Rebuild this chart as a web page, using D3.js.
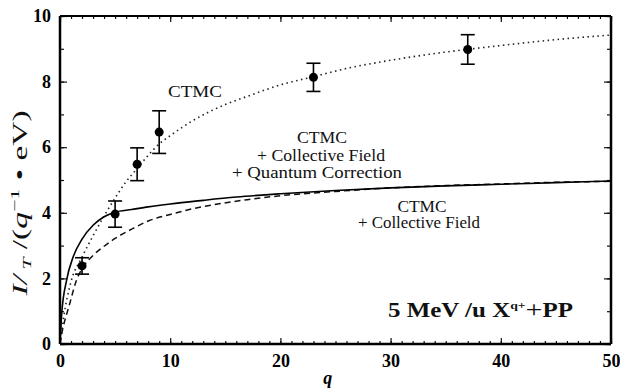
<!DOCTYPE html>
<html>
<head>
<meta charset="utf-8">
<script src="https://cdn.jsdelivr.net/npm/d3@7"></script>
<style>
  body { margin: 0; background: #fff; }
  svg { display: block; font-family: "Liberation Serif", "DejaVu Serif", serif; }
</style>
</head>
<body>
<div id="chart"></div>
<script>
// measured points with error bars: [q, value, error]
const measured = [
  [2, 2.38, 0.25],
  [5, 3.96, 0.4],
  [7, 5.48, 0.5],
  [9, 6.46, 0.65],
  [23, 8.13, 0.43],
  [37, 8.98, 0.45]
];

// CTMC (dotted)
const ctmc = [[0,0],[0.3,0.75],[1,1.9],[2,2.65],[3,3.3],[4,3.9],[5,4.45],[6,4.95],[7,5.35],[8,5.75],
  [9,6.1],[10,6.35],[12,6.8],[15,7.3],[17,7.55],[20,7.9],[23,8.15],[26,8.4],[30,8.65],[35,8.9],
  [40,9.1],[45,9.28],[50,9.42]];

// CTMC + Collective Field + Quantum Correction (solid)
const ctmcCfQc = [[0,0],[0.15,0.9],[0.6,1.95],[1.2,2.66],[2,3.2],[3,3.62],[4,3.88],[5,4.02],[6.5,4.1],
  [8,4.18],[10,4.27],[13,4.38],[16,4.48],[20,4.58],[25,4.68],[30,4.76],[35,4.82],[40,4.87],[45,4.92],[50,4.97]];

// CTMC + Collective Field (dashed)
const ctmcCf = [[0,0],[0.1,0.2],[0.9,1.25],[1.5,1.95],[2.1,2.35],[3,2.7],[4,2.98],[5,3.22],[6.5,3.5],
  [8,3.75],[10,3.95],[12,4.12],[14,4.25],[17,4.4],[20,4.52],[25,4.65],[30,4.76],[35,4.83],[40,4.88],[45,4.93],[50,4.96]];

const xTicks = [0, 10, 20, 30, 40, 50];
const yTicks = [0, 2, 4, 6, 8, 10];

const W = 620, H = 392;
const margin = { top: 16, right: 9, bottom: 48, left: 60 };
const width = W - margin.left - margin.right;
const height = H - margin.top - margin.bottom;

const svg = d3.select('#chart').append('svg')
  .attr('width', W)
  .attr('height', H);

const g = svg.append('g')
  .attr('transform', `translate(${margin.left},${margin.top})`);

const x = d3.scaleLinear().domain([0, 50]).range([0, width]);
const y = d3.scaleLinear().domain([0, 10]).range([height, 0]);

// minor ticks every 1 unit, on all four sides, pointing inward
const minorX = d3.range(0, 51, 1);
const minorY = d3.range(0, 11, 1);

g.append('g')
  .attr('transform', `translate(0,${height})`)
  .call(d3.axisBottom(x).tickValues(minorX).tickSize(-3).tickFormat(''))
  .call(a => a.select('.domain').remove());
g.append('g')
  .attr('transform', `translate(0,${height})`)
  .call(d3.axisBottom(x).tickValues(xTicks).tickSize(-6).tickPadding(10).tickFormat(d3.format('d')))
  .call(a => a.select('.domain').remove())
  .call(a => a.selectAll('text').attr('font-size', 18).attr('font-weight', 'bold').attr('font-family', '"Liberation Serif", serif'));

g.append('g')
  .call(d3.axisTop(x).tickValues(minorX).tickSize(-3).tickFormat(''))
  .call(a => a.select('.domain').remove());
g.append('g')
  .call(d3.axisTop(x).tickValues(xTicks).tickSize(-6).tickFormat(''))
  .call(a => a.select('.domain').remove());

g.append('g')
  .call(d3.axisLeft(y).tickValues(minorY).tickSize(-4).tickFormat(''))
  .call(a => a.select('.domain').remove());
g.append('g')
  .call(d3.axisLeft(y).tickValues(yTicks).tickSize(-7).tickPadding(9).tickFormat(d3.format('d')))
  .call(a => a.select('.domain').remove())
  .call(a => a.selectAll('text').attr('font-size', 18).attr('font-weight', 'bold').attr('font-family', '"Liberation Serif", serif'));

g.append('g')
  .attr('transform', `translate(${width},0)`)
  .call(d3.axisRight(y).tickValues(minorY).tickSize(-4).tickFormat(''))
  .call(a => a.select('.domain').remove());
g.append('g')
  .attr('transform', `translate(${width},0)`)
  .call(d3.axisRight(y).tickValues(yTicks).tickSize(-7).tickFormat(''))
  .call(a => a.select('.domain').remove());

g.selectAll('.tick line').attr('stroke', '#111').attr('stroke-width', 1.2);

// frame
g.append('line').attr('x1', 0).attr('x2', 0).attr('y1', 0).attr('y2', height).attr('stroke', '#000').attr('stroke-width', 2.5);
g.append('line').attr('x1', width).attr('x2', width).attr('y1', 0).attr('y2', height).attr('stroke', '#000').attr('stroke-width', 2.5);
g.append('line').attr('x1', 0).attr('x2', width).attr('y1', height).attr('y2', height).attr('stroke', '#000').attr('stroke-width', 2.5);
g.append('line').attr('x1', 0).attr('x2', width).attr('y1', 0).attr('y2', 0).attr('stroke', '#000').attr('stroke-width', 2);

// curves
const line = d3.line()
  .x(d => x(d[0]))
  .y(d => y(d[1]))
  .curve(d3.curveMonotoneX);

g.append('path').datum(ctmc)
  .attr('d', line).attr('fill', 'none')
  .attr('stroke', '#222').attr('stroke-width', 1.6)
  .attr('stroke-dasharray', '1.5,3.5');

g.append('path').datum(ctmcCf)
  .attr('d', line).attr('fill', 'none')
  .attr('stroke', '#111').attr('stroke-width', 1.5)
  .attr('stroke-dasharray', '6,4');

g.append('path').datum(ctmcCfQc)
  .attr('d', line).attr('fill', 'none')
  .attr('stroke', '#000').attr('stroke-width', 1.6);

// error bars
const eb = g.append('g').attr('stroke', '#000').attr('stroke-width', 1.6);
measured.forEach(d => {
  const cx = x(d[0]);
  eb.append('line').attr('x1', cx).attr('x2', cx).attr('y1', y(d[1] - d[2])).attr('y2', y(d[1] + d[2]));
  eb.append('line').attr('x1', cx - 7).attr('x2', cx + 7).attr('y1', y(d[1] - d[2])).attr('y2', y(d[1] - d[2]));
  eb.append('line').attr('x1', cx - 7).attr('x2', cx + 7).attr('y1', y(d[1] + d[2])).attr('y2', y(d[1] + d[2]));
});

g.selectAll('.pt')
  .data(measured)
  .enter().append('circle')
  .attr('class', 'pt')
  .attr('cx', d => x(d[0]))
  .attr('cy', d => y(d[1]))
  .attr('r', 4.5)
  .attr('fill', '#000');

// annotations (wide serif in the original, so stretch to measured widths)
const ann = svg.append('g').attr('fill', '#111').attr('font-size', 16).attr('text-anchor', 'middle');
const note = (cx, by, txt, w) => ann.append('text')
  .attr('x', cx).attr('y', by)
  .attr('textLength', w).attr('lengthAdjust', 'spacingAndGlyphs')
  .text(txt);
note(195, 97, 'CTMC', 54);
note(322, 143, 'CTMC', 50);
note(321, 161, '+ Collective Field', 128);
note(317, 178, '+ Quantum Correction', 170);
note(422, 212, 'CTMC', 49);
note(419, 228, '+ Collective Field', 122);

const title = svg.append('text')
  .attr('x', 388).attr('y', 317)
  .attr('font-size', 20).attr('font-weight', 'bold').attr('fill', '#111')
  .attr('textLength', 185).attr('lengthAdjust', 'spacingAndGlyphs');
title.append('tspan').text('5 MeV /u X');
title.append('tspan').attr('dy', -8).attr('font-size', 11).text('q+');
title.append('tspan').attr('dy', 8).attr('font-size', 24).attr('font-weight', 'normal').text('+');
title.append('tspan').text('PP');

// axis labels
svg.append('text')
  .attr('x', margin.left + x(24.3)).attr('y', 384)
  .attr('text-anchor', 'middle')
  .attr('font-size', 18).attr('font-style', 'italic').attr('font-weight', 'bold')
  .text('q');

const yl = svg.append('text')
  .attr('transform', `translate(27,${margin.top + y(4.3)}) rotate(-90)`)
  .attr('text-anchor', 'middle')
  .attr('font-size', 20).attr('fill', '#111')
  .attr('textLength', 185).attr('lengthAdjust', 'spacingAndGlyphs');
yl.append('tspan').attr('font-style', 'italic').text('I/');
yl.append('tspan').attr('font-style', 'italic').attr('font-size', 13).attr('dy', 4).text(' T');
yl.append('tspan').attr('dy', -4).text(' /(');
yl.append('tspan').attr('font-style', 'italic').text('q');
yl.append('tspan').attr('font-size', 13).attr('dy', -8).text('−1');
yl.append('tspan').attr('dy', 8).text(' • eV)');
</script>
</body>
</html>
